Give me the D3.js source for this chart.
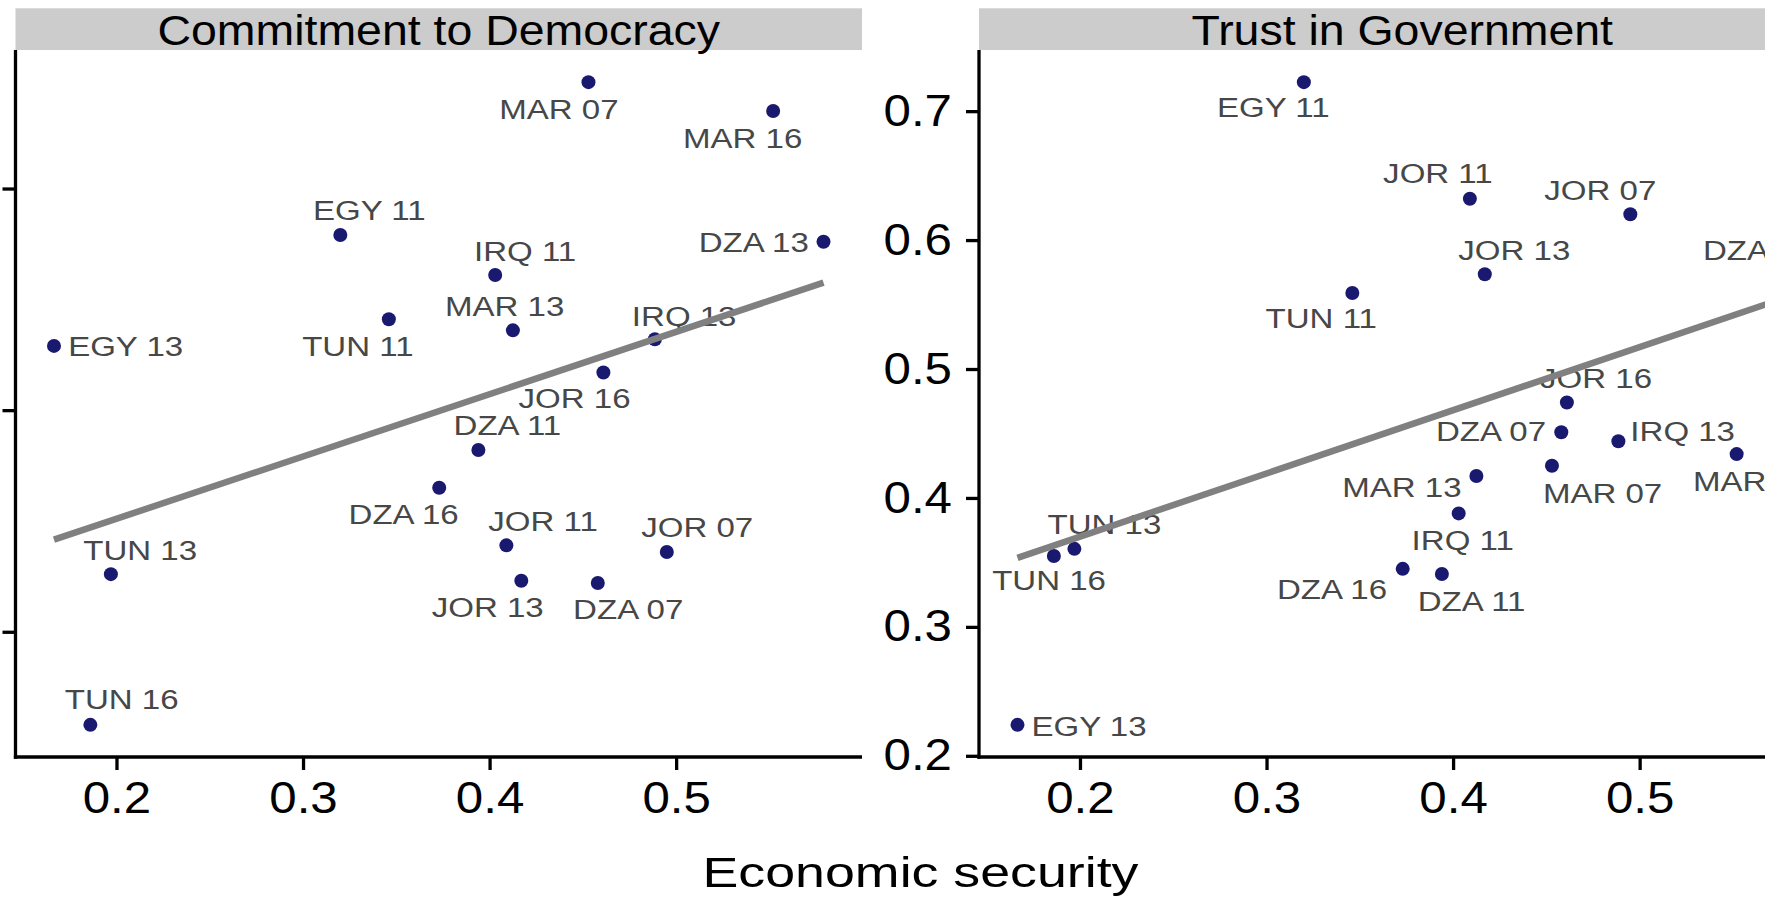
<!DOCTYPE html>
<html>
<head>
<meta charset="utf-8">
<script src="https://cdn.jsdelivr.net/npm/d3@7/dist/d3.min.js"></script>
<style>
  html, body { margin: 0; padding: 0; background: #ffffff; }
  svg { display: block; }
  text { font-family: "Liberation Sans", Arial, sans-serif; }
</style>
</head>
<body>
<svg id="chart" width="1777" height="901"></svg>
<script>
// Country-survey waves
const cases = ["MAR 07", "MAR 16", "EGY 11", "DZA 13", "IRQ 11", "TUN 11", "MAR 13", "EGY 13", "IRQ 13",
               "JOR 16", "DZA 11", "DZA 16", "JOR 11", "JOR 07", "TUN 13", "JOR 13", "DZA 07", "TUN 16"];

// Economic security (shared x)
const economicSecurity = [0.453, 0.552, 0.320, 0.579, 0.403, 0.346, 0.4125, 0.1665, 0.4886,
                          0.461, 0.394, 0.373, 0.409, 0.495, 0.197, 0.417, 0.458, 0.186];

// Commitment to democracy
const commitment = [0.948, 0.935, 0.879, 0.876, 0.861, 0.841, 0.836, 0.829, 0.832,
                    0.817, 0.782, 0.765, 0.739, 0.736, 0.726, 0.723, 0.722, 0.658];

// Trust in government
const trust = [0.425, 0.434, 0.7225, 0.615, 0.388, 0.559, 0.417, 0.224, 0.444,
               0.474, 0.341, 0.345, 0.632, 0.620, 0.3605, 0.5735, 0.451, 0.355];

// Tick values
const xTicks = [0.2, 0.3, 0.4, 0.5];
const commitmentTicks = [0.7, 0.8, 0.9];
const trustTicks = [0.2, 0.3, 0.4, 0.5, 0.6, 0.7];

const facetTitles = ["Commitment to Democracy", "Trust in Government"];
const xTitle = "Economic security";

// Label nudges (pixels from the point to the label centre), repel-style placement
const labelNudge = [
  { "MAR 07": [-29.6, 26.6], "MAR 16": [-30.5, 27.5], "EGY 11": [29, -25.2], "DZA 13": [-69.8, 0.8],
    "IRQ 11": [29.9, -24.2], "TUN 11": [-31, 26.7], "MAR 13": [-8.3, -24.2], "EGY 13": [71.7, 0.8],
    "IRQ 13": [29.3, -23.3], "JOR 16": [-28.8, 25.9], "DZA 11": [29, -25.2], "DZA 16": [-35.6, 26.7],
    "JOR 11": [36.7, -24.2], "JOR 07": [30.4, -25], "TUN 13": [29.3, -24.2], "JOR 13": [-33.6, 26.6],
    "DZA 07": [30.4, 25.8], "TUN 16": [31.3, -25.2] },
  { "EGY 11": [-30.6, 24.8], "JOR 11": [-32, -25.2], "JOR 07": [-30, -24.2], "JOR 13": [29.5, -24.2],
    "DZA 13": [-29, 29], "TUN 11": [-31.1, 25], "JOR 16": [29.2, -24.8], "DZA 07": [-70.3, -1.3],
    "IRQ 13": [64.3, -9.7], "MAR 13": [-74.5, 10.8], "MAR 07": [50.6, 27.5], "MAR 16": [16, 26.7],
    "IRQ 11": [4, 26.5], "TUN 13": [30, -24.2], "TUN 16": [-4.8, 24.1], "DZA 16": [-70.7, 20.1],
    "DZA 11": [29.7, 26.7], "EGY 13": [71.5, 1.5] }
];

// Layout
const panelTop = 50, panelBottom = 757, panelWidth = 846.5;
const panelLefts = [15.5, 979];
const stripTop = 8.3;
const figureRight = 1765;
const pointColor = "#191970";
const labelColor = "#474747";
const fitColor = "#808080";
const axisWidth = 3.3;
const labelSize = 28, labelStretch = 1.18;
const stripSize = 43, stripStretch = 1.08;
const xTitleSize = 43, xTitleStretch = 1.25;
const tickSize = 44, tickStretch = 1.12;

const svg = d3.select("#chart");

// ggplot-style 5% expansion of the data range
function expanded(vals) {
  const [lo, hi] = d3.extent(vals);
  const pad = (hi - lo) * 0.05;
  return [lo - pad, hi + pad];
}

// Ordinary least squares fit
function olsFit(xs, ys) {
  const mx = d3.mean(xs), my = d3.mean(ys);
  let sxy = 0, sxx = 0;
  xs.forEach((x, i) => { sxy += (x - mx) * (ys[i] - my); sxx += (x - mx) * (x - mx); });
  const slope = sxy / sxx;
  return x => my + slope * (x - mx);
}

// Horizontally widened text, anchored at (x, y)
function wideText(g, x, y, str, size, stretch, anchor, color) {
  return g.append("text")
    .attr("transform", `translate(${x},${y}) scale(${stretch},1)`)
    .attr("text-anchor", anchor)
    .attr("dy", "0.35em")
    .attr("font-size", size)
    .attr("fill", color)
    .text(str);
}

const defs = svg.append("defs");
defs.append("clipPath").attr("id", "figure-clip")
  .append("rect").attr("x", 0).attr("y", 0).attr("width", figureRight).attr("height", 901);

const panelsData = [
  { values: commitment, ticks: commitmentTicks, tickLabels: false },
  { values: trust, ticks: trustTicks, tickLabels: true }
];

panelsData.forEach((p, k) => {
  const left = panelLefts[k];
  const g = svg.append("g").attr("clip-path", "url(#figure-clip)");

  const x = d3.scaleLinear().domain(expanded(economicSecurity)).range([left, left + panelWidth]);
  const y = d3.scaleLinear().domain(expanded(p.values)).range([panelBottom, panelTop]);

  // panel clip
  const cid = "panel-clip-" + k;
  defs.append("clipPath").attr("id", cid)
    .append("rect").attr("x", left).attr("y", panelTop)
    .attr("width", panelWidth).attr("height", panelBottom - panelTop);

  // facet strip
  g.append("rect")
    .attr("x", left).attr("y", stripTop)
    .attr("width", panelWidth).attr("height", panelTop - stripTop)
    .attr("fill", "#cccccc");
  wideText(g, left + panelWidth / 2, (stripTop + panelTop) / 2 + 1, facetTitles[k], stripSize, stripStretch, "middle", "#000");

  const plot = g.append("g").attr("clip-path", `url(#${cid})`);

  // points
  plot.selectAll("circle")
    .data(cases)
    .join("circle")
    .attr("cx", (d, i) => x(economicSecurity[i]))
    .attr("cy", (d, i) => y(p.values[i]))
    .attr("r", 7)
    .attr("fill", pointColor);

  // point labels
  cases.forEach((name, i) => {
    const [dx, dy] = labelNudge[k][name];
    wideText(plot, x(economicSecurity[i]) + dx, y(p.values[i]) + dy, name, labelSize, labelStretch, "middle", labelColor);
  });

  // linear fit
  const fit = olsFit(economicSecurity, p.values);
  const [xmin, xmax] = d3.extent(economicSecurity);
  plot.append("line")
    .attr("x1", x(xmin)).attr("y1", y(fit(xmin)))
    .attr("x2", x(xmax)).attr("y2", y(fit(xmax)))
    .attr("stroke", fitColor)
    .attr("stroke-width", 6.5);

  // x axis
  const xa = g.append("g")
    .attr("transform", `translate(0,${panelBottom})`)
    .call(d3.axisBottom(x).tickValues(xTicks).tickSize(13).tickSizeOuter(0).tickPadding(12)
      .tickFormat(d3.format(".1f")));
  // y axis
  const ya = g.append("g")
    .attr("transform", `translate(${left},0)`)
    .call(d3.axisLeft(y).tickValues(p.ticks).tickSize(13).tickSizeOuter(0).tickPadding(14)
      .tickFormat(p.tickLabels ? d3.format(".1f") : () => ""));

  [xa, ya].forEach(a => {
    a.select(".domain").attr("stroke", "#000").attr("stroke-width", axisWidth);
    a.selectAll(".tick line").attr("stroke", "#000").attr("stroke-width", axisWidth);
    a.selectAll(".tick text")
      .attr("fill", "#000")
      .attr("font-size", tickSize)
      .attr("font-family", "'Liberation Sans', Arial, sans-serif");
  });
  // widen tick labels about their anchor
  xa.selectAll(".tick text").each(function () {
    const t = d3.select(this);
    const ty = +t.attr("y");
    t.attr("y", 0).attr("transform", `translate(0,${ty}) scale(${tickStretch},1)`);
  });
  ya.selectAll(".tick text").each(function () {
    const t = d3.select(this);
    const tx = +t.attr("x");
    t.attr("x", 0).attr("transform", `translate(${tx},0) scale(${tickStretch},1)`);
  });
  // extend the axis lines to meet at the corner
  ya.select(".domain").attr("d", `M0,${panelTop}V${panelBottom + axisWidth / 2}`);
  xa.select(".domain").attr("d", `M${left - axisWidth / 2},0H${left + panelWidth}`);
});

// shared x axis title
wideText(svg, (panelLefts[0] + panelLefts[1] + panelWidth) / 2, 872, xTitle, xTitleSize, xTitleStretch, "middle", "#000");
</script>
</body>
</html>
